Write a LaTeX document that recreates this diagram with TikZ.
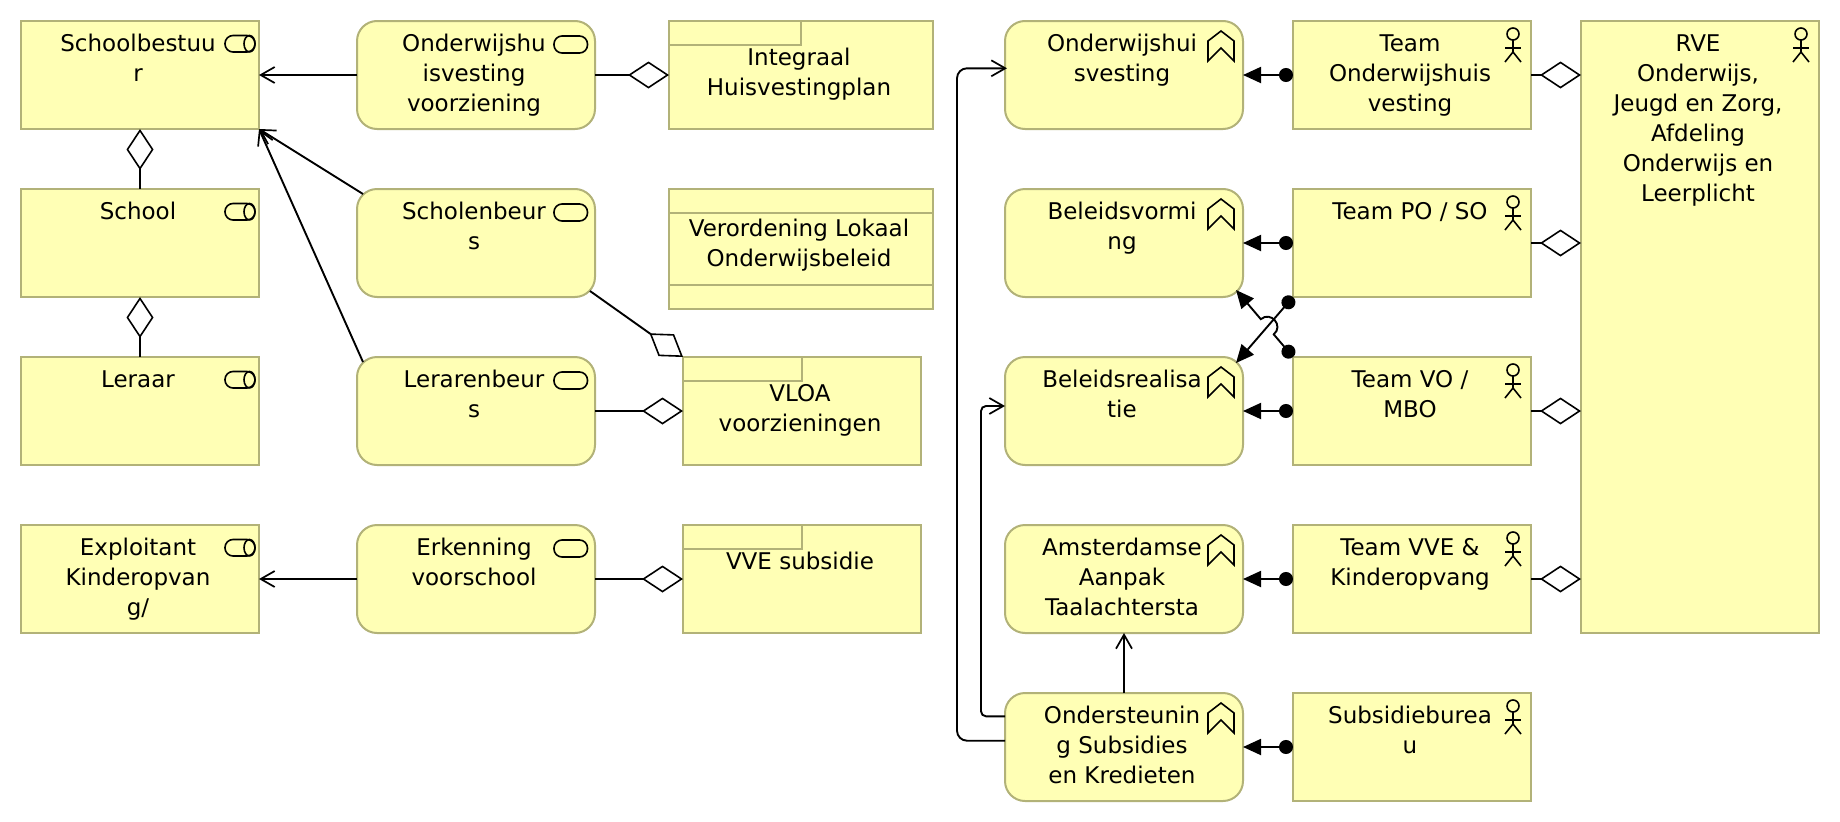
\documentclass[tikz,border=0pt]{standalone}
\usepackage{fontspec}
\setmainfont{DejaVu Sans}
\usetikzlibrary{arrows.meta,calc}
\definecolor{elemfill}{RGB}{255,255,181}
\definecolor{elemline}{RGB}{178,178,120}
\newcommand{\etext}[4][9.7pt]{\parbox[c][#2][t]{#3}{\fontsize{23}{30}\selectfont\vspace*{#1}\centering\advance\rightskip 4pt\strut #4\par}}
\newcommand{\elemtext}[2]{\etext{108pt}{#1}{#2}}
\tikzset{
  x=1pt,y=-1pt,
  elembase/.style={draw=elemline,fill=elemfill,line width=2pt,inner sep=0pt,outer sep=0pt,anchor=north west,minimum height=108pt},
  sqbox/.style={elembase,minimum width=#1},
  rdbox/.style={elembase,rounded corners=20pt,minimum width=238pt},
  conn/.style={line width=1.9pt,black},
  serves/.style={conn,-{Straight Barb[length=14pt,width=16pt,line width=1.7pt]}},
  aggr/.style={conn,-{Diamond[length=41pt,width=27pt,fill=white,line width=1.6pt]}},
  assign/.style={conn,{Circle[length=14pt,width=14pt]}-{Triangle[length=18pt,width=16pt]}},
  icon/.style={line width=1.6pt,black},
  tabline/.style={draw=elemline,line width=2pt},
}
\newcommand{\roleicon}[1]{%
  \draw[icon,rounded corners=8pt] ($(#1.north east)+(-34,14.5)$) rectangle ($(#1.north east)+(-4,31)$);
  \draw[icon] ($(#1.north east)+(-9.5,22.7)$) ellipse [x radius=5.5pt,y radius=8.2pt];}
\newcommand{\svcicon}[1]{%
  \draw[icon,rounded corners=8pt] ($(#1.north east)+(-41,15)$) rectangle ($(#1.north east)+(-7.5,32)$);}
\newcommand{\fnicon}[1]{%
  \draw[icon,line join=miter] ($(#1.north east)+(-35,40)$) -- ++(0,-20) -- ++(13,-10) -- ++(13,10) -- ++(0,20) -- ++(-13,-13) -- cycle;}
\newcommand{\acticon}[1]{%
  \draw[icon] ($(#1.north east)+(-18,13)$) circle [radius=6pt];
  \draw[icon] ($(#1.north east)+(-18,19)$) -- ++(0,12) -- ++(-8,10);
  \draw[icon] ($(#1.north east)+(-18,31)$) -- ++(8,10);
  \draw[icon] ($(#1.north east)+(-26,27)$) -- ++(16,0);}
\begin{document}
\begin{tikzpicture}
\useasboundingbox (0,0) rectangle (1840,822);
% left column
\node[sqbox=238pt] (sb) at (21,21) {\elemtext{232pt}{Schoolbestuu\\r}};
\node[sqbox=238pt] (school) at (21,189) {\elemtext{232pt}{School}};
\node[sqbox=238pt] (leraar) at (21,357) {\elemtext{232pt}{Leraar}};
\node[sqbox=238pt] (expl) at (21,525) {\elemtext{232pt}{Exploitant\\Kinderopvan\\g/}};
% services
\node[rdbox] (ohv) at (357,21) {\elemtext{232pt}{Onderwijshu\\isvesting\\voorziening}};
\node[rdbox] (sbeurs) at (357,189) {\elemtext{232pt}{Scholenbeur\\s}};
\node[rdbox] (lbeurs) at (357,357) {\elemtext{232pt}{Lerarenbeur\\s}};
\node[rdbox] (erk) at (357,525) {\elemtext{232pt}{Erkenning\\voorschool}};
% contracts
\node[sqbox=264pt] (ihp) at (669,21) {\etext[23.7pt]{108pt}{262pt}{Integraal\\Huisvestingplan}};
\node[sqbox=264pt,minimum height=120pt] (vlo) at (669,189) {\etext[26.7pt]{120pt}{262pt}{Verordening Lokaal\\Onderwijsbeleid}};
\node[sqbox=238pt] (vloa) at (683,357) {\etext[23.7pt]{108pt}{236pt}{VLOA\\voorzieningen}};
\node[sqbox=238pt] (vve) at (683,525) {\etext[23.7pt]{108pt}{236pt}{VVE subsidie}};
% functions
\node[rdbox] (fohv) at (1005,21) {\elemtext{232pt}{Onderwijshui\\svesting}};
\node[rdbox] (fbv) at (1005,189) {\elemtext{232pt}{Beleidsvormi\\ng}};
\node[rdbox] (fbr) at (1005,357) {\elemtext{232pt}{Beleidsrealisa\\tie}};
\node[rdbox] (faa) at (1005,525) {\elemtext{232pt}{Amsterdamse\\Aanpak\\Taalachtersta}};
\node[rdbox] (fos) at (1005,693) {\elemtext{232pt}{Ondersteunin\\g Subsidies\\en Kredieten}};
% teams
\node[sqbox=238pt] (tohv) at (1293,21) {\elemtext{232pt}{Team\\Onderwijshuis\\vesting}};
\node[sqbox=238pt] (tpo) at (1293,189) {\elemtext{232pt}{Team PO / SO}};
\node[sqbox=238pt] (tvo) at (1293,357) {\elemtext{232pt}{Team VO /\\MBO}};
\node[sqbox=238pt] (tvve) at (1293,525) {\elemtext{232pt}{Team VVE \&\\Kinderopvang}};
\node[sqbox=238pt] (tsub) at (1293,693) {\elemtext{232pt}{Subsidieburea\\u}};
\node[elembase,minimum width=238pt,minimum height=612pt] (rve) at (1581,21) {\etext{612pt}{232pt}{RVE\\Onderwijs,\\Jeugd en Zorg,\\Afdeling\\Onderwijs en\\Leerplicht}};
% icons
\foreach \n in {sb,school,leraar,expl}{\roleicon{\n}}
\foreach \n in {ohv,sbeurs,lbeurs,erk}{\svcicon{\n}}
\foreach \n in {fohv,fbv,fbr,faa,fos}{\fnicon{\n}}
\foreach \n in {tohv,tpo,tvo,tvve,tsub,rve}{\acticon{\n}}
% contract tabs
\draw[tabline] ($(ihp.north west)+(0,24)$) -| ($(ihp.north west)+(132,0)$);
\draw[tabline] ($(vloa.north west)+(0,24)$) -| ($(vloa.north west)+(119,0)$);
\draw[tabline] ($(vve.north west)+(0,24)$) -| ($(vve.north west)+(119,0)$);
\draw[tabline] ($(vlo.north west)+(0,24)$) -- ($(vlo.north east)+(0,24)$);
\draw[tabline] ($(vlo.south west)+(0,-24)$) -- ($(vlo.south east)+(0,-24)$);
% connectors
\draw[serves] (ohv.west) -- (sb.east);
\draw[serves] (erk.west) -- (expl.east);
\coordinate (sbnw) at ($(sbeurs.north west)+(6,5)$);
\coordinate (lbnw) at ($(lbeurs.north west)+(6,5)$);
\draw[serves] (sbnw) -- (sb.south east);
\draw[serves] (lbnw) -- (sb.south east);
\draw[aggr] (school.north) -- (sb.south);
\draw[aggr] (leraar.north) -- (school.south);
\draw[aggr] (ohv.east) -- (ihp.west);
\draw[aggr] (lbeurs.east) -- (vloa.west);
\draw[aggr] (erk.east) -- (vve.west);
\coordinate (sbse) at ($(sbeurs.south east)+(-5,-6)$);
\draw[aggr] (sbse) -- (vloa.north west);
\draw[aggr] (tohv.east) -- (rve.west |- tohv.east);
\draw[aggr] (tpo.east) -- (rve.west |- tpo.east);
\draw[aggr] (tvo.east) -- (rve.west |- tvo.east);
\draw[aggr] (tvve.east) -- (rve.west |- tvve.east);
\draw[assign] (tohv.west) -- (fohv.east);
\draw[assign] (tpo.west) -- (fbv.east);
\draw[assign] (tvo.west) -- (fbr.east);
\draw[assign] (tvve.west) -- (faa.east);
\draw[assign] (tsub.west) -- (fos.east);
\draw[serves] (fos.north) -- (faa.south);
% crossing assignments
\coordinate (tipvorm) at ($(fbv.south east)+(-7,-7)$);
\coordinate (tipreal) at ($(fbr.north east)+(-7,6)$);
\draw[assign] (tpo.south west) -- (tipreal);
\coordinate (xing) at (intersection of tpo.south west--tipreal and tvo.north west--tipvorm);
\coordinate (jumpa) at ($(xing)!10pt!(tvo.north west)$);
\coordinate (jumpb) at ($(xing)!10pt!(tipvorm)$);
\draw[assign] (tvo.north west) -- (jumpa) .. controls ($(jumpa)+(10.2,-8.5)$) and ($(jumpb)+(10.2,-8.5)$) .. (jumpb) -- (tipvorm);
% flows around the left of the functions
\coordinate (fa) at ($(fos.north west)+(0,47.7)$);
\coordinate (fb) at ($(fos.north west)+(0,23.3)$);
\coordinate (ta) at ($(fohv.north west)+(2,47.3)$);
\coordinate (tb) at ($(fbr.north west)+(0,49)$);
\draw[serves,rounded corners=10pt] (fa) -- ++(-48,0) |- (ta);
\draw[serves,rounded corners=5pt] (fb) -- ++(-24,0) |- (tb);
\end{tikzpicture}
\end{document}
